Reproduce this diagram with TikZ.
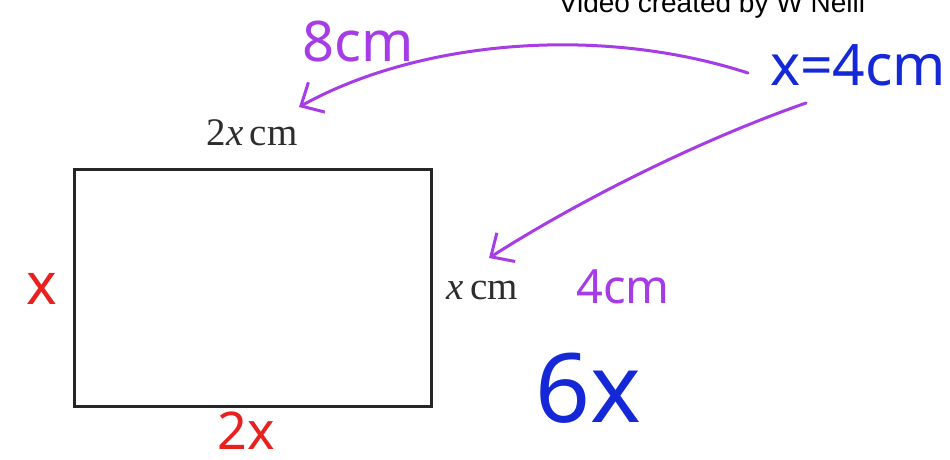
\documentclass[tikz,border=0pt]{standalone}
\usepackage{fontspec}
\setmainfont{Liberation Serif}
\newfontfamily\titlefont{Liberation Sans}
\newfontfamily\handfont{Noto Sans}
\usetikzlibrary{arrows.meta}
\definecolor{penred}{RGB}{232,32,30}
\definecolor{penblue}{RGB}{20,40,216}
\definecolor{penpurple}{RGB}{165,60,230}
\definecolor{printgray}{RGB}{45,45,45}
\tikzset{
  printed/.style={font=\fontsize{39}{41}\selectfont, text=printgray, inner sep=0pt},
  hand/.style={font=\handfont, inner sep=0pt},
  pen/.style={draw=penpurple, line width=3pt, line cap=round, line join=round,
    -{Straight Barb[length=18pt,width=34pt,line width=3pt]}},
}
\begin{document}
\begin{tikzpicture}[x=1pt,y=-1pt]
\useasboundingbox[fill=white] (0,0) rectangle (950,460);
% rectangle
\node[draw=black!85, line width=2.6pt, minimum width=357pt, minimum height=237pt,
  inner sep=0pt, anchor=north west] (rect) at (73,168) {};
% printed labels
\node[printed] (top) at (252,133) {2\textit{x}\,cm};
\node[printed] (right) at (482,290) {\textit{x}\,cm};
\node[font=\titlefont\fontsize{28}{30}\selectfont, text=black, inner sep=0pt, anchor=base] (title) at (712,13) {Video created by W Neill};
% handwriting
\node[hand, text=penred, font=\handfont\fontsize{58}{60}\selectfont] (lx) at (42,289) {x};
\node[hand, text=penred, font=\handfont\fontsize{52}{54}\selectfont] (bx) at (246,431) {2x};
\node[hand, text=penpurple, font=\handfont\fontsize{56}{58}\selectfont] (eight) at (358,42) {8cm};
\node[hand, text=penblue, font=\handfont\fontsize{57}{59}\selectfont] (eq) at (858,65) {x=4cm};
\node[hand, text=penpurple, font=\handfont\fontsize{47}{49}\selectfont] (four) at (623,287) {4cm};
\node[hand, text=penblue, font=\handfont\fontsize{96}{98}\selectfont] (six) at (588,388) {6x};
% arrows
\coordinate (s1) at (748,73);
\coordinate (t1) at (299,107);
\coordinate (s2) at (806,103);
\coordinate (t2) at (489,258);
\draw[pen] (s1) .. controls (600,25) and (420,40) .. (t1);
\draw[pen] (s2) .. controls (700,140) and (580,200) .. (t2);
\end{tikzpicture}
\end{document}
